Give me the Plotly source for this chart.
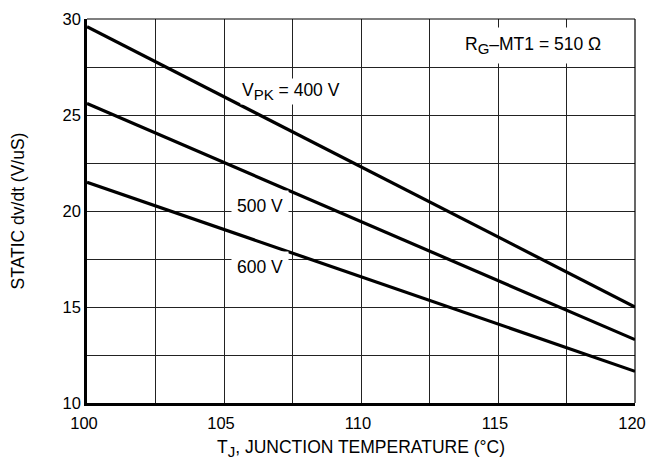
import plotly.graph_objects as go

temps = [100, 120]
dvdt_400 = [29.6, 15.0]
dvdt_500 = [25.6, 13.3]
dvdt_600 = [21.5, 11.65]

x_ticks = [100, 105, 110, 115, 120]
y_ticks = [10, 15, 20, 25, 30]

FONT = "Liberation Sans, Arial, sans-serif"

fig = go.Figure()
for ys in (dvdt_400, dvdt_500, dvdt_600):
    fig.add_trace(go.Scatter(x=temps, y=ys, mode="lines",
                             line=dict(color="black", width=3.2),
                             showlegend=False, hoverinfo="skip"))

SUB = '<sub><span style="font-size:15px">{}</span></sub>'
ann_font = dict(family=FONT, size=17.5, color="black")
fig.add_annotation(x=107.45, y=26.25, text="V" + SUB.format("PK") + " = 400 V", showarrow=False,
                   font=ann_font, bgcolor="white", borderpad=1)
fig.add_annotation(x=106.3, y=20.26, text="500 V", showarrow=False,
                   font=ann_font, bgcolor="white", borderpad=5)
fig.add_annotation(x=106.3, y=17.1, text="600 V", showarrow=False,
                   font=ann_font, bgcolor="white", borderpad=5)
fig.add_annotation(x=116.28, y=28.6, text="R" + SUB.format("G") + "–MT1 = 510 Ω", showarrow=False,
                   font=ann_font, bgcolor="white", borderpad=6)

# thin top and right borders
fig.add_shape(type="line", xref="paper", yref="paper", x0=0, x1=1, y0=1, y1=1,
              line=dict(color="black", width=1.2))
fig.add_shape(type="line", xref="paper", yref="paper", x0=1, x1=1, y0=0, y1=1,
              line=dict(color="black", width=1.2))

axis_common = dict(showline=True, linecolor="black", linewidth=2.5,
                   showgrid=True, gridcolor="#222222", gridwidth=1,
                   zeroline=False, ticks="", automargin=False,
                   tickfont=dict(family=FONT, size=16.5, color="black"))

fig.update_xaxes(range=[100, 120], tickvals=x_ticks, ticktext=[str(v) for v in x_ticks],
                 minor=dict(dtick=2.5, tick0=100, showgrid=True, gridcolor="#222222", gridwidth=1),
                 ticklabelstandoff=3, ticklabelshift=-3, ticklabeloverflow="allow",
                 title=dict(text="T" + SUB.format("J") + ", JUNCTION TEMPERATURE (°C)",
                            font=dict(family=FONT, size=17.5, color="black"), standoff=20),
                 **axis_common)
fig.update_yaxes(range=[10, 30], tickvals=y_ticks, ticktext=[str(v) for v in y_ticks],
                 minor=dict(dtick=2.5, tick0=10, showgrid=True, gridcolor="#222222", gridwidth=1),
                 ticklabeloverflow="allow",
                 title=dict(text="STATIC dv/dt (V/uS)",
                            font=dict(family=FONT, size=17.5, color="black"), standoff=36),
                 **axis_common)

# page body has an 8px margin: size the figure so the page does not overflow the
# window and the plot area lands at the reference position
fig.update_layout(width=638, height=452, margin=dict(l=79, r=11, t=11, b=57),
                  plot_bgcolor="white", paper_bgcolor="white",
                  font=dict(family=FONT, color="black"))

fig.write_html("out.html")
